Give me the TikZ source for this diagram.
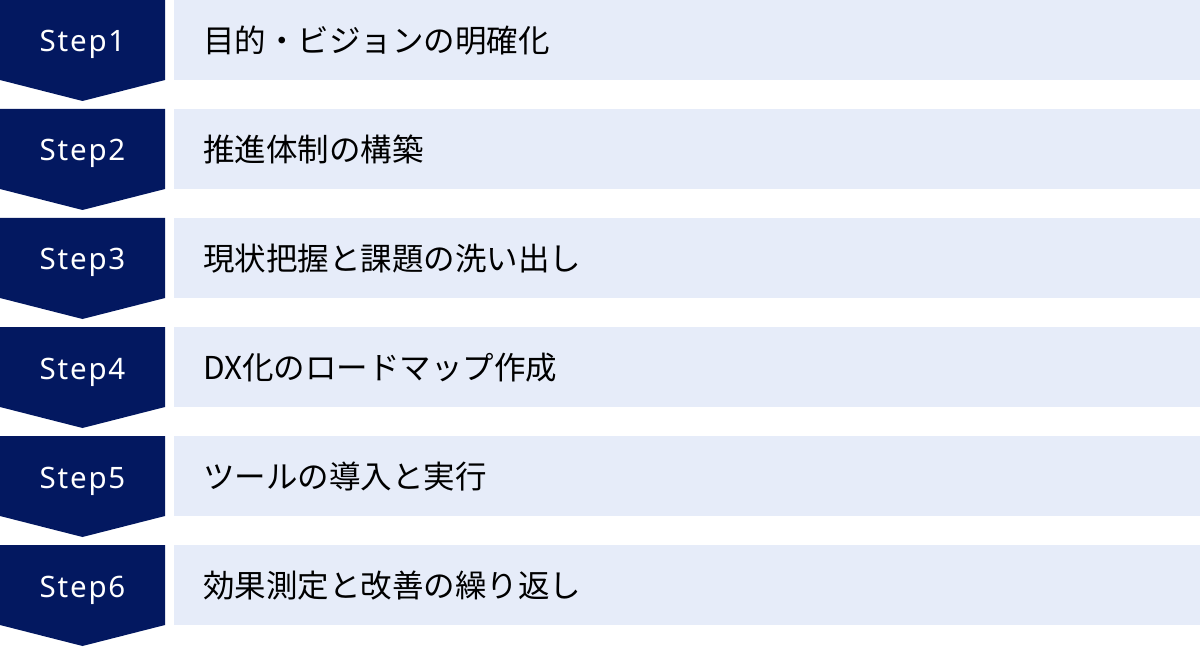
\documentclass[tikz,border=0pt]{standalone}
\usepackage{fontspec}
\setmainfont{Noto Sans CJK JP}
\newfontfamily\stepfont[LetterSpace=6]{Noto Sans}
\usepackage{xcolor}
\usetikzlibrary{positioning}
\definecolor{navy}{RGB}{3,24,96}
\definecolor{barblue}{RGB}{230,236,249}

\begin{document}
\begin{tikzpicture}[x=1pt,y=-1pt]
  \tikzset{ stepbox/.style={fill=navy},
    steplabel/.style={white,inner sep=0pt,anchor=base,font=\stepfont\fontsize{29.5}{30}\selectfont},
    bar/.style={fill=barblue,inner sep=0pt,minimum width=1026pt,minimum height=80pt,anchor=north west},
    bartext/.style={black,inner sep=0pt,font=\fontsize{31.5}{32}\selectfont},
  }
  \useasboundingbox (0,0) rectangle (1200,647);

  % the step arrows on the left
  \foreach \y/\n in {0/1,109/2,218/3,327/4,436/5,545/6}{
    \fill[stepbox] (0,\y) -- (165,\y) -- (165,\y+80) -- (82.5,\y+101) -- (0,\y+80) -- cycle;
    \node[steplabel] (s\n) at (82.5,\y+52) {Step\n};
  }

  % the bars with the texts
  \node[bar] (b1) at (174,0) {};
  \node[bar] (b2) at (174,109) {};
  \node[bar] (b3) at (174,218) {};
  \node[bar] (b4) at (174,327) {};
  \node[bar] (b5) at (174,436) {};
  \node[bar] (b6) at (174,545) {};
  \node[bartext, right=29pt of b1.west] (t1) {目的・ビジョンの明確化};
  \node[bartext, right=29pt of b2.west] (t2) {推進体制の構築};
  \node[bartext, right=29pt of b3.west] (t3) {現状把握と課題の洗い出し};
  \node[bartext, right=29pt of b4.west] (t4) {DX化のロードマップ作成};
  \node[bartext, right=29pt of b5.west] (t5) {ツールの導入と実行};
  \node[bartext, right=29pt of b6.west] (t6) {効果測定と改善の繰り返し};
\end{tikzpicture}
\end{document}
